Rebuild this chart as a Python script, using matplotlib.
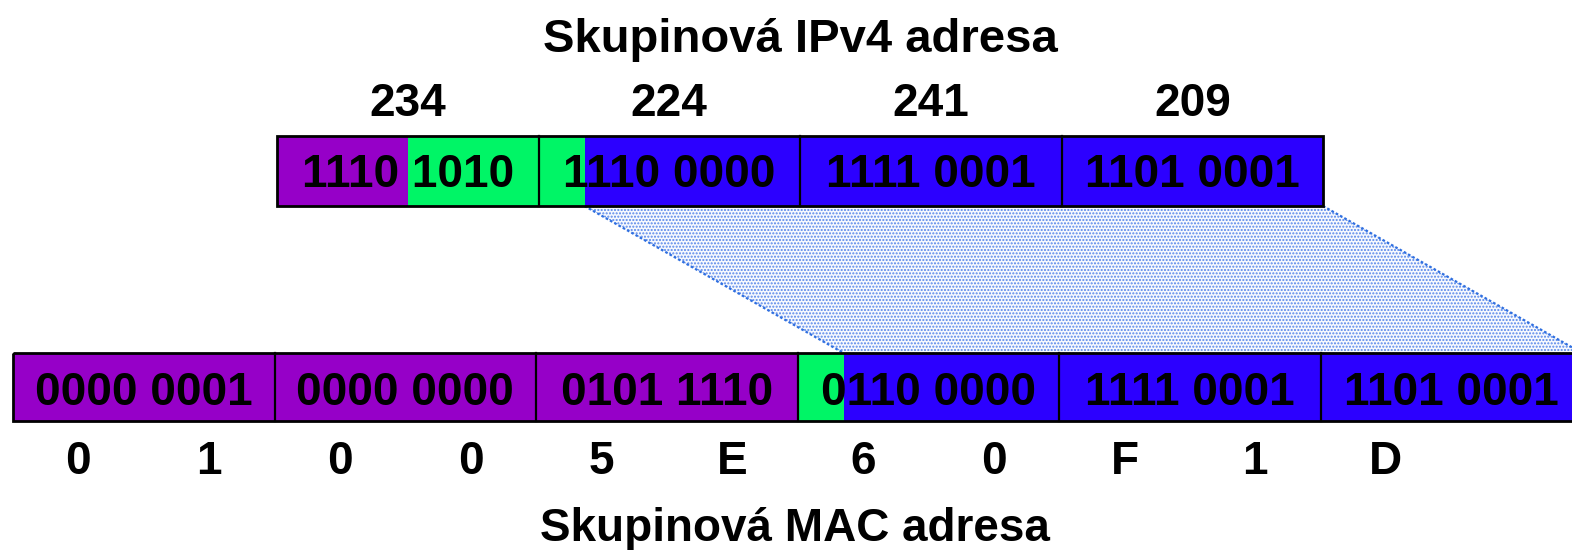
import matplotlib.pyplot as plt
from matplotlib.patches import Rectangle, Polygon

# data
ip_octets = ["234", "224", "241", "209"]
ip_bits = ["1110 1010", "1110 0000", "1111 0001", "1101 0001"]
mac_bits = ["0000 0001", "0000 0000", "0101 1110",
            "0110 0000", "1111 0001", "1101 0001"]
mac_hex = ["0", "1", "0", "0", "5", "E", "6", "0", "F", "1", "D"]
title_ip = "Skupinová IPv4 adresa"
title_mac = "Skupinová MAC adresa"

PURPLE = "#9600c8"
GREEN = "#00f566"
BLUE = "#2c00ff"
plt.rcParams["hatch.linewidth"] = 1.0

fig = plt.figure(figsize=(15.72, 5.5), dpi=100)
ax = fig.add_axes([0, 0, 1, 1])
ax.set_xlim(0, 1572)
ax.set_ylim(550, 0)
ax.axis("off")

byte_w = 261.5
font = dict(family="Liberation Sans", weight="bold", fontsize=33, color="black")

# top row (IPv4)
tx, ty0, ty1 = 277, 136, 206
# bottom row (MAC)
bx, by0, by1 = 13, 353, 421
bit_w = 46

# mapped region between rows
poly = Polygon([(tx + byte_w + bit_w, ty1), (tx + 4 * byte_w, ty1),
                (bx + 6 * byte_w, by0), (bx + 3 * byte_w + bit_w, by0)],
               closed=True, facecolor="#f7f9fe", edgecolor="#5586ea",
               hatch=".....", lw=0, zorder=1)
ax.add_patch(poly)
for (x0, x1) in [(tx + byte_w + bit_w, bx + 3 * byte_w + bit_w),
                 (tx + 4 * byte_w, bx + 6 * byte_w)]:
    ax.plot([x0, x1], [ty1, by0], color="#2f6fe0", lw=1.6,
            dashes=(1.2, 1.0), zorder=2)


def seg(x0, w, y0, y1, c):
    ax.add_patch(Rectangle((x0, y0), w, y1 - y0, facecolor=c,
                           edgecolor="none", zorder=3))


# top row colours
seg(tx, byte_w / 2, ty0, ty1, PURPLE)
seg(tx + byte_w / 2, byte_w / 2, ty0, ty1, GREEN)
seg(tx + byte_w, bit_w, ty0, ty1, GREEN)
seg(tx + byte_w + bit_w, 3 * byte_w - bit_w, ty0, ty1, BLUE)
ax.add_patch(Rectangle((tx, ty0), 4 * byte_w, ty1 - ty0, facecolor="none",
                       edgecolor="black", lw=2, zorder=4))
for i in range(1, len(ip_bits)):
    ax.plot([tx + i * byte_w] * 2, [ty0, ty1], color="black", lw=1.6, zorder=4)
for i, (octet, bits) in enumerate(zip(ip_octets, ip_bits)):
    cx = tx + (i + 0.5) * byte_w
    ax.text(cx, 116, octet, ha="center", va="baseline", zorder=5, **font)
    ax.text(cx, 187, bits, ha="center", va="baseline", zorder=5, **font)

# bottom row colours
seg(bx, 3 * byte_w, by0, by1, PURPLE)
seg(bx + 3 * byte_w, bit_w, by0, by1, GREEN)
seg(bx + 3 * byte_w + bit_w, 3 * byte_w - bit_w, by0, by1, BLUE)
ax.add_patch(Rectangle((bx, by0), 6 * byte_w, by1 - by0, facecolor="none",
                       edgecolor="black", lw=2, zorder=4))
for i in range(1, len(mac_bits)):
    ax.plot([bx + i * byte_w] * 2, [by0, by1], color="black", lw=1.6, zorder=4)
for i, bits in enumerate(mac_bits):
    ax.text(bx + (i + 0.5) * byte_w, 405, bits, ha="center", va="baseline",
            zorder=5, **font)
for i, h in enumerate(mac_hex):
    ax.text(bx + (i + 0.5) * byte_w / 2, 474, h, ha="center", va="baseline",
            zorder=5, **font)

ax.text(800, 52, title_ip, ha="center", va="baseline",
        **{**font, "fontsize": 34})
ax.text(795, 541, title_mac, ha="center", va="baseline", **font)

fig.savefig("out.png", dpi=100)
plt.close(fig)
